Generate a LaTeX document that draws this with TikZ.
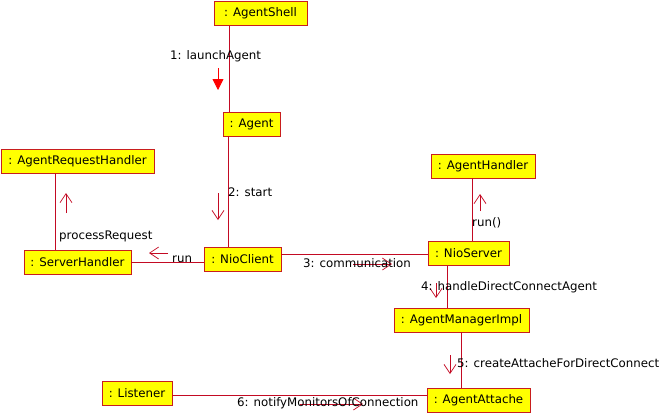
\documentclass[tikz,border=0pt]{standalone}
\usepackage{fontspec}
\setmainfont{DejaVu Sans}
\usepackage{tikz}
\usetikzlibrary{arrows.meta}
\definecolor{boxred}{RGB}{200,30,30}
\definecolor{linkred}{RGB}{195,10,35}
\definecolor{boxfill}{RGB}{255,255,0}

\begin{document}
\begin{tikzpicture}[x=1pt, y=-1pt,
    obj/.style = {draw=boxred, fill=boxfill, line width=0.9pt, minimum height=24pt, inner sep=0pt, font=\fontsize{11.8}{14}\selectfont},
    link/.style = {draw=linkred, line width=0.8pt},
    msg/.style = {draw=linkred, line width=0.7pt, -{Straight Barb[length=9pt, width=12pt]}},
    sync/.style = {draw=red, line width=0.8pt, -{Triangle[length=11pt, width=11pt]}, red},
    lbl/.style = {anchor=west, inner sep=0pt, font=\fontsize{11.8}{14}\selectfont}]
        \useasboundingbox (0,0) rectangle (667,413);
        \node[obj, minimum width=93pt] (shell) at (260.5,13.5) {: AgentShell};
        \node[obj, minimum width=57pt] (agent) at (251.5,124) {: Agent};
        \node[obj, minimum width=77pt] (client) at (242.5,259.5) {: NioClient};
        \node[obj, minimum width=153pt] (reqh) at (77.5,161) {: AgentRequestHandler};
        \node[obj, minimum width=107pt] (srvh) at (77.5,262.5) {: ServerHandler};
        \node[obj, minimum width=104pt] (agh) at (483,166) {: AgentHandler};
        \node[obj, minimum width=81pt] (server) at (468.5,253.5) {: NioServer};
        \node[obj, minimum width=135pt] (ami) at (461.5,320) {: AgentManagerImpl};
        \node[obj, minimum width=103pt] (att) at (478.5,400) {: AgentAttache};
        \node[obj, minimum width=70pt] (lst) at (137,393.5) {: Listener};
        % links between the objects
        \draw[link] ([xshift=-31.5pt]shell.south) -- ([xshift=-22.5pt]agent.north);
        \draw[link] ([xshift=-23.5pt]agent.south) -- ([xshift=-14.5pt]client.north);
        \draw[link] ([xshift=-22.5pt]reqh.south) -- ([xshift=-22.5pt]srvh.north);
        \draw[link] ([yshift=0.5pt]srvh.east) -- ([yshift=-2.5pt]client.west);
        \draw[link] ([yshift=5.5pt]client.east) -- ([yshift=-0.5pt]server.west);
        \draw[link] ([xshift=-11pt]agh.south) -- ([xshift=3.5pt]server.north);
        \draw[link] ([xshift=-21.5pt]server.south) -- ([xshift=-14.5pt]ami.north);
        \draw[link] ([xshift=-0.5pt]ami.south) -- ([xshift=-17.5pt]att.north);
        \draw[link] ([yshift=-1.5pt]lst.east) -- ([yshift=5pt]att.west);
        % messages
        \draw[sync] (218,68) -- (218,90);
        \node[lbl] (m1) at (170,56) {1: launchAgent};
        \draw[msg] (218,193) -- (218,220);
        \node[lbl] (m2) at (228,192) {2: start};
        \draw[msg] (66,213) -- (66,193);
        \node[lbl] (m3) at (59,236) {processRequest};
        \draw[msg] (168,253) -- (149,253);
        \node[lbl] (m4) at (172,259) {run};
        \draw[msg] (353,264) -- (392,264);
        \node[lbl] (m5) at (303,263) {3: communication};
        \draw[msg] (480,211) -- (480,194);
        \node[lbl] (m6) at (472,223) {run()};
        \draw[msg] (436,283) -- (436,298);
        \node[lbl] (m7) at (421,287) {4: handleDirectConnectAgent};
        \draw[msg] (450,355) -- (450,374);
        \node[lbl] (m8) at (457,363) {5: createAttacheForDirectConnect};
        \draw[msg] (300,404) -- (363,404);
        \node[lbl] (m9) at (237,403) {6: notifyMonitorsOfConnection};
    \end{tikzpicture}
\end{document}
